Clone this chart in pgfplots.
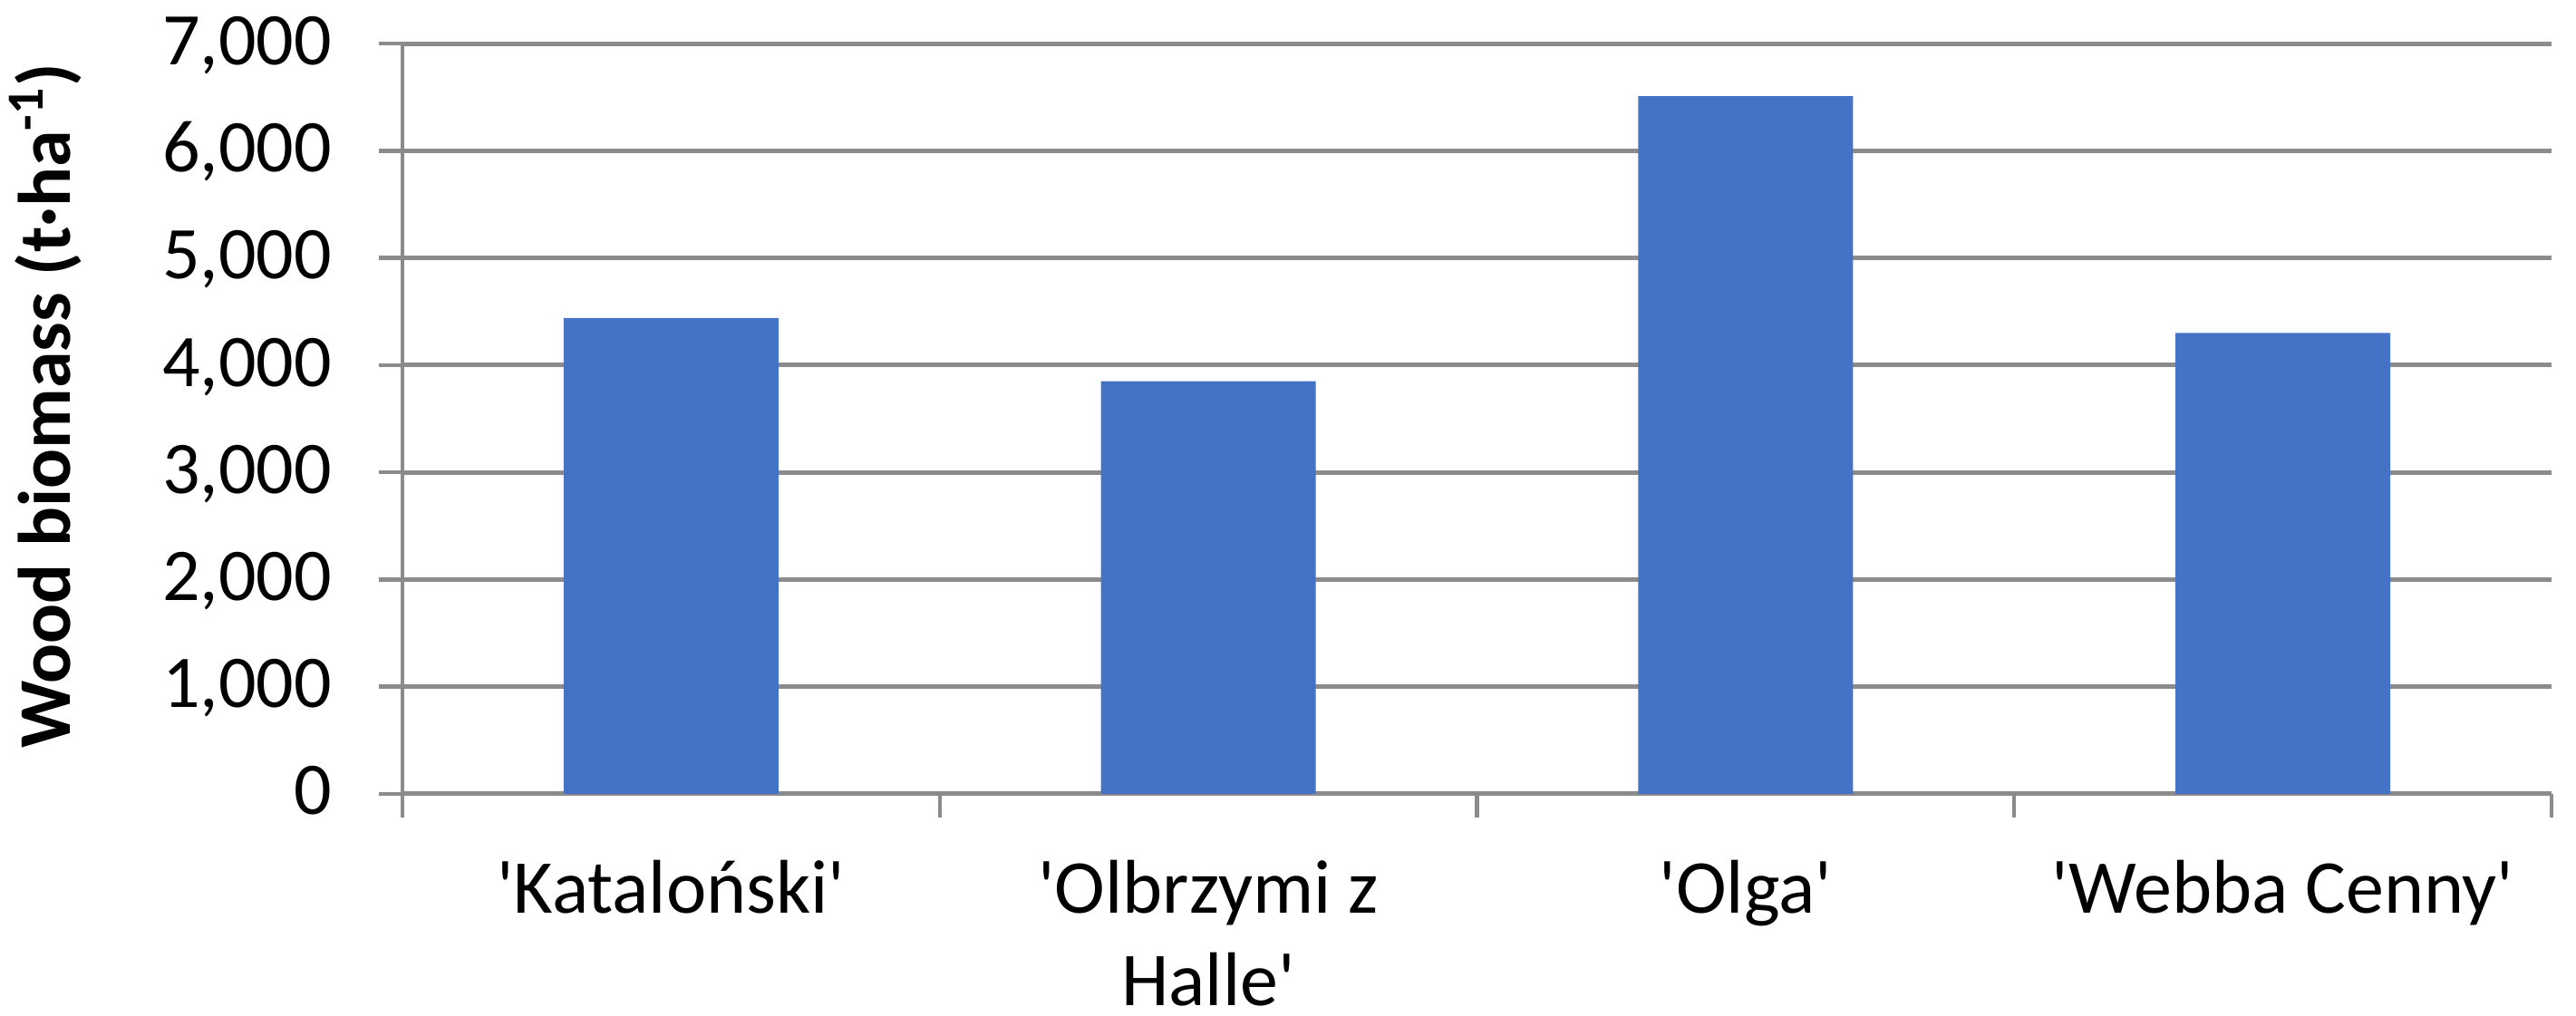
\documentclass[border=0pt]{standalone}
\usepackage{pgfplots}
\pgfplotsset{compat=1.18}
\usepackage{fontspec}
\newfontfamily\carl{Carlito}
\definecolor{barblue}{HTML}{4472C4}
\definecolor{gridgray}{HTML}{8B8B8B}
\newcommand\olb{\vtop{\baselineskip=25.5pt\halign{\hfil##\hfil\cr'Olbrzymi z\cr Halle'\cr}}}
\begin{document}
\begin{tikzpicture}
\path[use as bounding box] (-111pt,-61.3pt) rectangle (599.5pt,218.95pt);
\begin{axis}[
  at={(0,0)}, anchor=south west,
  scale only axis, width=592.75pt, height=206.9pt,
  xmin=-0.5, xmax=3.5, ymin=0, ymax=7000,
  axis lines*=left,
  axis line style={draw=gridgray, line width=1.2pt},
  ytick={0,1000,...,7000},
  ymajorgrids,
  major grid style={draw=gridgray, line width=1.2pt},
  tick align=outside,
  major tick length=6.5pt,
  tick style={draw=gridgray, line width=1.1pt},
  xtick={-0.5,0.5,1.5,2.5,3.5},
  xticklabels={},
  extra x ticks={0,1,2,3},
  extra x tick labels={{'Kataloński'},{\olb},{'Olga'},{'Webba Cenny'}},
  extra x tick style={major tick length=0pt, grid=none},
  /pgf/number format/assume math mode=true,
  /pgf/number format/1000 sep={,},
  yticklabel style={font=\carl\fontsize{20.5}{24}\selectfont, anchor=base east, yshift=-5.8pt, xshift=-9.5pt},
  xticklabel style={font=\carl\fontsize{21}{25.5}\selectfont, anchor=base, yshift=-33pt, inner ysep=0pt},
  ylabel={Wood biomass (t·ha\textsuperscript{-1})},
  every axis y label/.style={at={(axis description cs:-0.1544,0.517)}, rotate=90, anchor=base, font=\carl\fontsize{20.5}{24}\selectfont\bfseries},
  ybar, bar width=0.4,
]
\addplot[fill=barblue, draw=none] coordinates {(0,4440) (1,3850) (2,6510) (3,4300)};
\end{axis}
\end{tikzpicture}
\end{document}
